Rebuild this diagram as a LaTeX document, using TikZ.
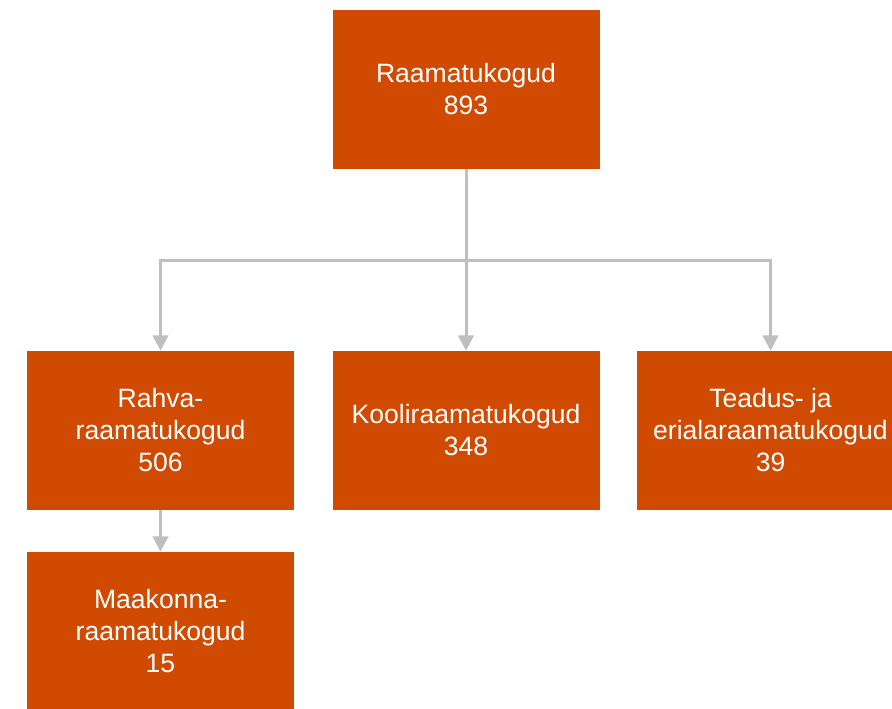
\documentclass[tikz,border=0pt]{standalone}
\usepackage{fontspec}
\setmainfont{Liberation Sans}
\usepackage{tikz}
\usetikzlibrary{arrows.meta}
\usepackage{xcolor}
\definecolor{boxorange}{RGB}{208, 74, 2}
\definecolor{linegray}{RGB}{191, 191, 191}

\begin{document}
\begin{tikzpicture}[x=0.75pt, y=-0.75pt, >={Triangle[width=11.5pt, length=11.5pt]},
    libbox/.style={fill=boxorange, text=white, align=center, inner sep=0pt,
      minimum width=200.25pt, minimum height=119.25pt,
      font=\fontsize{19.9}{24}\selectfont},
    conn/.style={draw=linegray, line width=2.25pt}]
    \useasboundingbox (0,0) rectangle (892,708);
    \node[libbox] (total) at (466, 89) {Raamatukogud\\893};
    \node[libbox] (rahva) at (160.5, 430.5) {Rahva-\\raamatukogud\\506};
    \node[libbox] (kooli) at (466, 430.5) {Kooliraamatukogud\\348};
    \node[libbox] (teadus) at (770.5, 430.5) {Teadus- ja\\erialaraamatukogud\\39};
    \node[libbox] (maakond) at (160.5, 631.5) {Maakonna-\\raamatukogud\\15};
    \coordinate (fork) at (466, 260);
    \draw[conn] (total) -- (fork);
    \draw[conn, ->] (fork) -| (rahva.north);
    \draw[conn, ->] (fork) -- (kooli);
    \draw[conn, ->] (fork) -| (teadus.north);
    \draw[conn, ->] (rahva) -- (maakond);
  \end{tikzpicture}
\end{document}
